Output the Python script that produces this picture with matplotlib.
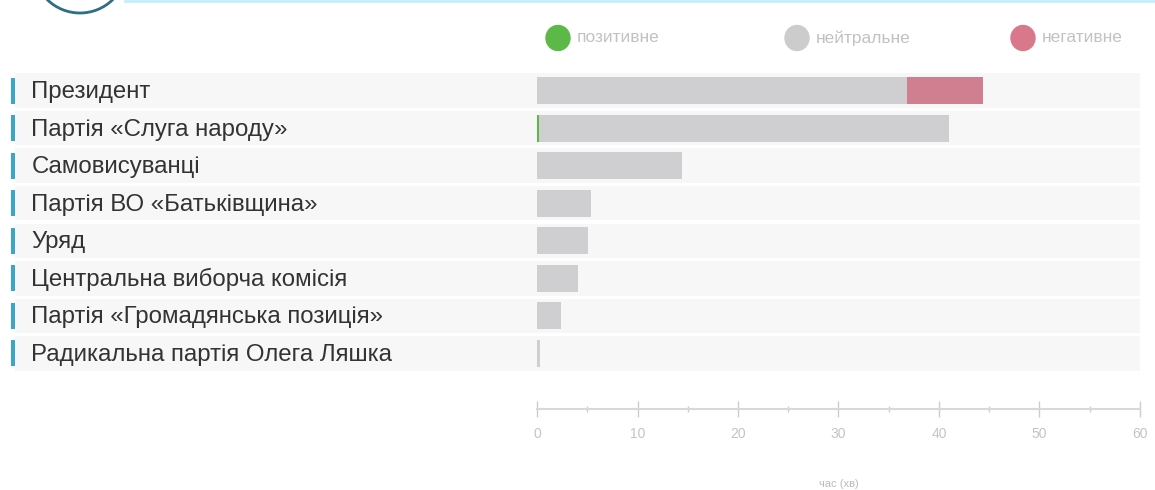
import matplotlib
matplotlib.use("Agg")
import matplotlib.pyplot as plt
from matplotlib.patches import Ellipse
from matplotlib.lines import Line2D
import numpy as np

plt.rcParams['font.family'] = ['Liberation Sans', 'DejaVu Sans']

# subjects and time (minutes) split by tone
subjects = ["Президент", "Партія «Слуга народу»", "Самовисуванці",
            "Партія ВО «Батьківщина»", "Уряд", "Центральна виборча комісія",
            "Партія «Громадянська позиція»", "Радикальна партія Олега Ляшка"]
positive = [0.0, 0.2, 0.0, 0.0, 0.0, 0.0, 0.0, 0.0]
neutral = [36.8, 40.8, 14.4, 5.4, 5.1, 4.1, 2.4, 0.3]
negative = [7.6, 0.0, 0.0, 0.0, 0.0, 0.0, 0.0, 0.0]
legend_labels = ["позитивне", "нейтральне", "негативне"]
xticks = [0, 10, 20, 30, 40, 50, 60]

c_pos = "#5cb947"
c_neu = "#cfcfd1"
c_neg = "#d07f90"

W, H = 1155, 490
fig = plt.figure(figsize=(W / 100, H / 100), dpi=100)
ax = fig.add_axes([537 / W, 1 - 372 / H, (1140 - 537) / W, 300 / H])

y = np.arange(len(subjects))
pos = np.array(positive)
neu = np.array(neutral)
neg = np.array(negative)

# light row bands spanning label area and plot
ax.barh(y, 60 + 51.9, left=-51.9, height=0.92, color="#f7f7f7", clip_on=False, zorder=0)
# blue markers at left
ax.barh(y, 0.35, left=-52.3, height=0.7, color="#3aa6c8", clip_on=False, zorder=1)

ax.barh(y, pos, color=c_pos, height=0.72, zorder=2)
ax.barh(y, neu, left=pos, color=c_neu, height=0.72, zorder=2)
ax.barh(y, neg, left=pos + neu, color=c_neg, height=0.72, zorder=2)

for i, s in enumerate(subjects):
    ax.text(-50.3, i + 0.04, s, ha="left", va="center", fontsize=17.3, color="#333333")

ax.set_xlim(0, 60)
ax.set_ylim(len(subjects) - 0.5, -0.5)
ax.set_yticks([])
for sp in ["top", "right", "left"]:
    ax.spines[sp].set_visible(False)
ax.spines["bottom"].set_position(("outward", 26.6))
ax.spines["bottom"].set_color("#d8d8d8")
ax.spines["bottom"].set_linewidth(1.5)
ax.set_xticks(xticks)
ax.set_xticks(np.arange(5, 60, 10), minor=True)
ax.tick_params(axis="x", which="major", direction="inout", length=11, width=1,
               color="#cccccc", labelcolor="#c4c4c4", labelsize=10, pad=7.5)
ax.tick_params(axis="x", which="minor", direction="inout", length=5, width=1,
               color="#cccccc")
ax.set_xlabel("час (хв)", fontsize=8, color="#bbbbbb", labelpad=27)
ax.patch.set_alpha(0)

# legend
lx = [558, 797, 1023]
for x0, col, lab in zip(lx, [c_pos, "#cccccc", "#d9788a"], legend_labels):
    fig.add_artist(Ellipse((x0 / W, 1 - 38 / H), 24 / W, 25 / H, color=col,
                           transform=fig.transFigure))
    fig.text((x0 + 19) / W, 1 - 38 / H, lab, fontsize=12.5, color="#c2c2c2",
             va="center", ha="left")

# top decoration
fig.add_artist(Line2D([125 / W, 1], [1 - 1.5 / H, 1 - 1.5 / H], color="#c4eefa",
                      lw=2, transform=fig.transFigure))
fig.add_artist(Ellipse((80 / W, 1 + 32 / H), 92 / W, 90 / H, fill=False,
                       ec="#2f6d85", lw=2, transform=fig.transFigure))

fig.savefig("out.png", dpi=100)
